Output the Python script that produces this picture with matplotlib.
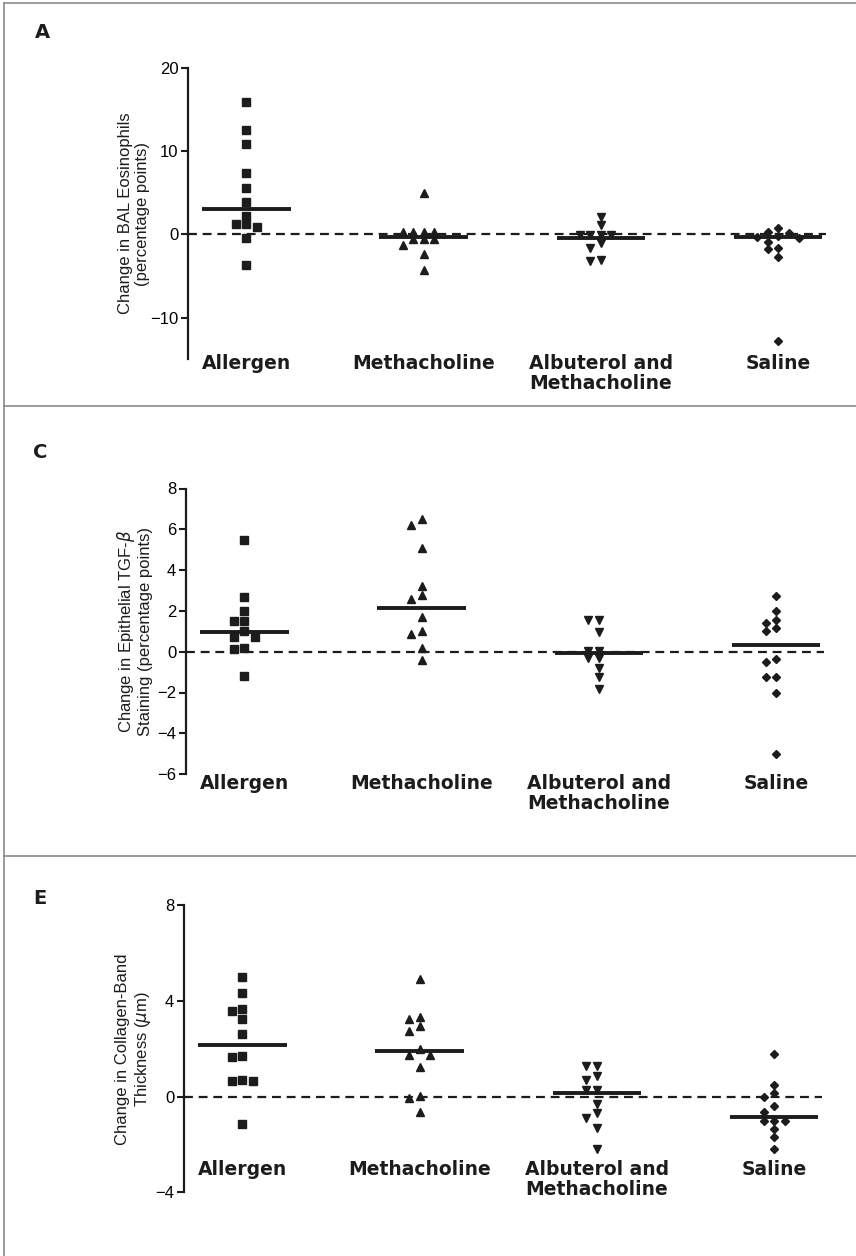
import numpy as np
import matplotlib
matplotlib.use("Agg")
import matplotlib.pyplot as plt
from matplotlib import transforms
from matplotlib.lines import Line2D

groups = ["Allergen", "Methacholine", "Albuterol and\nMethacholine", "Saline"]

# Panel A - change in BAL eosinophils (percentage points)
eos_allergen = [15.9, 12.5, 10.8, 7.4, 5.6, 3.9, 2.2, 1.2, 1.2, 0.9, -0.5, -3.7]
eos_metha = [5.0, 0.3, 0.3, 0.3, 0.3, -0.6, -0.6, -0.6, -1.3, -2.4, -4.3]
eos_albut = [2.1, 1.1, -0.1, -0.1, -0.1, -0.1, -1.1, -1.7, -3.1, -3.2]
eos_saline = [0.8, 0.3, 0.1, -0.2, -0.3, -0.4, -0.9, -1.7, -1.8, -2.7, -12.8]
eos_medians = [3.1, -0.3, -0.4, -0.35]

# Panel C - change in epithelial TGF-beta staining
tgf_allergen = [5.5, 2.7, 2.0, 1.5, 1.5, 1.0, 0.7, 0.7, 0.2, 0.15, -1.2]
tgf_metha = [6.5, 6.2, 5.1, 3.2, 2.8, 2.6, 1.7, 1.0, 0.85, 0.2, -0.4]
tgf_albut = [1.55, 1.55, 0.95, 0.05, 0.05, -0.3, -0.3, -0.8, -1.25, -1.85]
tgf_saline = [2.75, 2.0, 1.55, 1.4, 1.15, 1.0, -0.35, -0.5, -1.25, -1.25, -2.0, -5.0]
tgf_medians = [0.97, 2.15, -0.08, 0.33]

# Panel E - change in collagen-band thickness (um)
col_allergen = [5.0, 4.35, 3.65, 3.6, 3.25, 2.6, 1.7, 1.65, 0.7, 0.65, 0.65, -1.15]
col_metha = [4.9, 3.35, 3.25, 2.95, 2.75, 2.0, 1.75, 1.75, 1.25, 0.05, -0.05, -0.65]
col_albut = [1.3, 1.3, 0.85, 0.7, 0.3, 0.3, -0.3, -0.7, -0.9, -1.3, -2.2]
col_saline = [1.8, 0.5, 0.15, 0.0, -0.4, -0.65, -1.0, -1.0, -1.0, -1.35, -1.7, -2.2]
col_medians = [2.15, 1.9, 0.15, -0.85]

markers = ["s", "^", "v", "D"]
msizes = [5.5, 6.0, 6.0, 4.3]
ink = "#1c1c1c"

W, H = 856, 1256
fig = plt.figure(figsize=(W / 100, H / 100), dpi=100)
fig.patch.set_facecolor("white")

lab_font = ["Liberation Sans", "DejaVu Sans"]


def px_rect(left, top, right, bottom):
    return [left / W, 1 - bottom / H, (right - left) / W, (bottom - top) / H]


def swarm(vals, ppy, ppx, step=10.5, mind=7.0):
    # simple beeswarm: put each point at the smallest free offset
    vals = np.asarray(vals, dtype=float)
    offs = np.zeros(len(vals))
    placed = []
    for i in np.argsort(-vals, kind="stable"):
        y = vals[i] * ppy
        for k in [0, -1, 1, -2, 2, -3, 3, -4, 4]:
            x = k * step
            if all(np.hypot(x - a, y - b) >= mind for a, b in placed):
                break
        placed.append((x, y))
        offs[i] = x / ppx
    return offs


panels = [
    dict(letter="A", letter_xy=(42, 32), rect=(188, 67.7, 826, 359.3), ylim=(-15, 20),
         yticks=[-10, 0, 10, 20], data=[eos_allergen, eos_metha, eos_albut, eos_saline],
         med=eos_medians, ylabel="Change in BAL Eosinophils\n(percentage points)", lab_top=354),
    dict(letter="C", letter_xy=(40, 452), rect=(186, 488.5, 824, 774.1), ylim=(-6, 8),
         yticks=[-6, -4, -2, 0, 2, 4, 6, 8], data=[tgf_allergen, tgf_metha, tgf_albut, tgf_saline],
         med=tgf_medians, ylabel="Change in Epithelial TGF-$\\beta$\nStaining (percentage points)", lab_top=774),
    dict(letter="E", letter_xy=(40, 898), rect=(184, 905.3, 822, 1192.4), ylim=(-4, 8),
         yticks=[-4, 0, 4, 8], data=[col_allergen, col_metha, col_albut, col_saline],
         med=col_medians, ylabel="Change in Collagen-Band\nThickness ($\\mu$m)", lab_top=1160),
]

for p in panels:
    left, top, right, bottom = p["rect"]
    ax = fig.add_axes(px_rect(left, top, right, bottom))
    ax.set_xlim(-0.33, 3.27)
    ax.set_ylim(*p["ylim"])
    ppy = ax.bbox.height / (p["ylim"][1] - p["ylim"][0])
    ppx = ax.bbox.width / 3.6

    ax.axhline(0, color=ink, lw=1.6, ls=(0, (4, 2.6)), zorder=1)
    for i, vals in enumerate(p["data"]):
        xs = i + swarm(vals, ppy, ppx)
        ax.plot(xs, vals, ls="none", marker=markers[i], ms=msizes[i], color=ink,
                mec=ink, zorder=2)
        ax.hlines(p["med"][i], i - 0.25, i + 0.25, color=ink, lw=2.8, zorder=3)

    for s in ["top", "right", "bottom"]:
        ax.spines[s].set_visible(False)
    ax.spines["left"].set_linewidth(1.6)
    ax.spines["left"].set_color(ink)
    ax.set_xticks([])
    ax.set_yticks(p["yticks"])
    ax.tick_params(axis="y", length=5, width=1.5, color=ink, pad=2)
    for t in ax.get_yticklabels():
        t.set_fontfamily(lab_font)
        t.set_fontsize(12)

    # y label as two centred lines left of the tick labels
    fig.text(134 / W, 1 - (top + bottom) / 2 / H, p["ylabel"], rotation=90,
             ha="center", va="center", multialignment="center", family=lab_font,
             fontsize=12, linespacing=1.15, color=ink)

    tr = transforms.blended_transform_factory(ax.transData, fig.transFigure)
    for i, g in enumerate(groups):
        ax.text(i, 1 - p["lab_top"] / H, g, transform=tr, ha="center", va="top",
                fontsize=13.5, fontweight="bold", linespacing=1.05, color=ink)

    fig.text(p["letter_xy"][0] / W, 1 - p["letter_xy"][1] / H, p["letter"],
             fontsize=14, fontweight="bold", ha="center", va="center", color=ink)

# panel frames
frame = "#8a8a8a"
for y in [3, 406, 856]:
    fig.add_artist(Line2D([4 / W, 1], [1 - y / H, 1 - y / H], transform=fig.transFigure,
                          color=frame, lw=1.2))
fig.add_artist(Line2D([4 / W, 4 / W], [0, 1 - 3 / H], transform=fig.transFigure,
                      color=frame, lw=1.2))

fig.savefig("out.png", dpi=100)
